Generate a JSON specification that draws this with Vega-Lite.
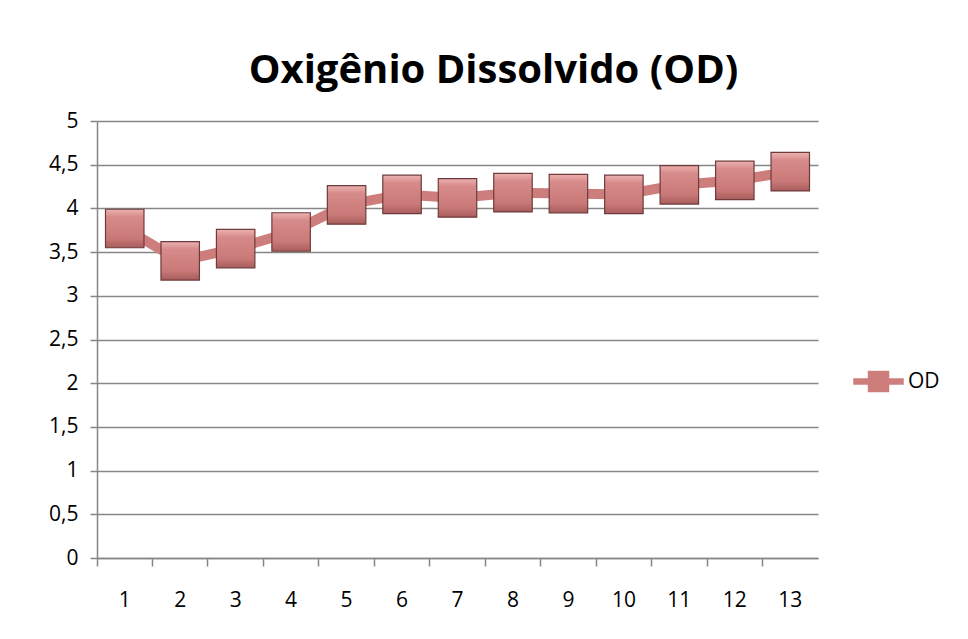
{
  "$schema": "https://vega.github.io/schema/vega-lite/v6.json",
  "autosize": "none",
  "width": 721,
  "height": 437,
  "padding": {"left": 97, "top": 121, "right": 150, "bottom": 81},
  "background": "white",
  "title": {
    "text": "Oxigênio Dissolvido (OD)",
    "font": "Open Sans",
    "fontSize": 40,
    "fontWeight": "bold",
    "color": "#000000",
    "anchor": "middle",
    "frame": "group",
    "dx": 36,
    "offset": 19
  },
  "data": {
    "values": [
      {"ponto": 1, "valor": 3.77, "serie": "OD"},
      {"ponto": 2, "valor": 3.40, "serie": "OD"},
      {"ponto": 3, "valor": 3.54, "serie": "OD"},
      {"ponto": 4, "valor": 3.73, "serie": "OD"},
      {"ponto": 5, "valor": 4.04, "serie": "OD"},
      {"ponto": 6, "valor": 4.16, "serie": "OD"},
      {"ponto": 7, "valor": 4.12, "serie": "OD"},
      {"ponto": 8, "valor": 4.18, "serie": "OD"},
      {"ponto": 9, "valor": 4.17, "serie": "OD"},
      {"ponto": 10, "valor": 4.16, "serie": "OD"},
      {"ponto": 11, "valor": 4.27, "serie": "OD"},
      {"ponto": 12, "valor": 4.32, "serie": "OD"},
      {"ponto": 13, "valor": 4.42, "serie": "OD"}
    ]
  },
  "encoding": {
    "x": {
      "field": "ponto",
      "type": "ordinal",
      "scale": {"type": "band", "paddingInner": 0, "paddingOuter": 0},
      "axis": {
        "title": null,
        "labelAngle": 0,
        "labelFont": "Open Sans",
        "labelFontSize": 21,
        "labelColor": "#000000",
        "labelPadding": 23,
        "bandPosition": 0,
        "tickSize": 8,
        "tickColor": "#868686",
        "tickWidth": 1.5,
        "domainColor": "#868686",
        "domainWidth": 1.5,
        "grid": false
      }
    },
    "y": {
      "field": "valor",
      "type": "quantitative",
      "scale": {"domain": [0, 5], "nice": false},
      "axis": {
        "title": null,
        "values": [0, 0.5, 1, 1.5, 2, 2.5, 3, 3.5, 4, 4.5, 5],
        "labelExpr": "replace(format(datum.value, ''), '.', ',')",
        "labelFont": "Open Sans",
        "labelFontSize": 21,
        "labelColor": "#000000",
        "labelPadding": 12,
        "tickSize": 7,
        "tickColor": "#868686",
        "tickWidth": 1.5,
        "domainColor": "#868686",
        "domainWidth": 1.5,
        "grid": true,
        "gridColor": "#868686",
        "gridWidth": 1.5
      }
    },
    "color": {
      "field": "serie",
      "type": "nominal",
      "scale": {"range": ["#CD7D7B"]},
      "legend": {
        "title": null,
        "orient": "none",
        "legendX": 756,
        "legendY": 235,
        "labelFont": "Open Sans",
        "labelFontSize": 21,
        "labelColor": "#000000",
        "symbolType": "M-1,-0.12H1V0.12H-1Z M-0.42,-0.42H0.42V0.42H-0.42Z",
        "symbolSize": 2500,
        "symbolStrokeColor": "#8C4C4A",
        "symbolStrokeWidth": 0.5,
        "labelOffset": 4
      }
    }
  },
  "layer": [
    {
      "mark": {"type": "line", "strokeWidth": 10, "color": "#D48E8C"}
    },
    {
      "mark": {
        "type": "point",
        "shape": "square",
        "size": 1480,
        "filled": true,
        "fill": {
          "gradient": "linear",
          "x1": 0, "y1": 0, "x2": 0, "y2": 1,
          "stops": [
            {"offset": 0, "color": "#ECB2B1"},
            {"offset": 0.2, "color": "#D68B8A"},
            {"offset": 0.75, "color": "#C97978"},
            {"offset": 1, "color": "#A85D5C"}
          ]
        },
        "stroke": "#6E3B3A",
        "strokeWidth": 1.2,
        "opacity": 1
      }
    }
  ],
  "config": {
    "view": {"stroke": null}
  }
}
